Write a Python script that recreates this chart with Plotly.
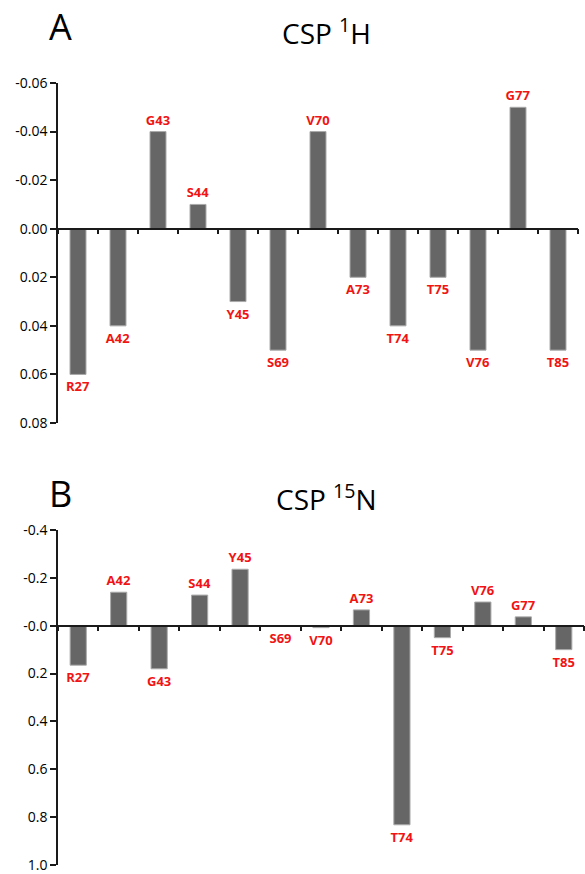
import plotly.graph_objects as go

residues = ["R27", "A42", "G43", "S44", "Y45", "S69", "V70", "A73", "T74", "T75", "V76", "G77", "T85"]
csp_1h = [0.06, 0.04, -0.04, -0.01, 0.03, 0.05, -0.04, 0.02, 0.04, 0.02, 0.05, -0.05, 0.05]
csp_15n = [0.165, -0.14, 0.18, -0.128, -0.236, 0.002, 0.008, -0.066, 0.832, 0.05, -0.099, -0.037, 0.10]

ticks_a = [-0.06, -0.04, -0.02, 0.0, 0.02, 0.04, 0.06, 0.08]
ticktext_a = ["-0.06", "-0.04", "-0.02", "0.00", "0.02", "0.04", "0.06", "0.08"]
ticks_b = [-0.4, -0.2, 0.0, 0.2, 0.4, 0.6, 0.8, 1.0]
ticktext_b = ["-0.4", "-0.2", "-0.0", "0.2", "0.4", "0.6", "0.8", "1.0"]

W, H = 585, 874
FONT = "Open Sans"
BAR = "#666666"
RED = "#f01414"
AX = "#1a1a1a"

def py(pix):
    return 1 - pix / H

range_a = [0.08, -0.06]
range_b = [1.0, -0.4]
dom_a = [py(423), py(83)]
dom_b = [py(865), py(530)]

def zero_pos(rng, dom):
    lo, hi = rng[1], rng[0]  # top value, bottom value
    frac = (0 - lo) / (hi - lo)
    return dom[1] - frac * (dom[1] - dom[0])

fig = go.Figure()
for vals, xa, ya in [(csp_1h, "x", "y"), (csp_15n, "x2", "y2")]:
    fig.add_trace(go.Bar(
        x=residues, y=vals, xaxis=xa, yaxis=ya,
        marker=dict(color=BAR, line=dict(color="#aaaaaa", width=1)),
        text=residues, textposition="outside", cliponaxis=False,
        textfont=dict(color=RED, size=13, family=FONT, weight="bold"),
        hoverinfo="skip", showlegend=False,
    ))

common_x = dict(type="category", showticklabels=False, ticks="outside", ticklen=5,
                tickwidth=1.5, tickcolor=AX, tickson="boundaries", showline=True,
                linecolor=AX, linewidth=1.5, showgrid=False, zeroline=False,
                anchor="free", automargin=False)
common_y = dict(ticks="outside", ticklen=6, tickwidth=1.5, tickcolor=AX, showline=True,
                linecolor=AX, linewidth=1.5, showgrid=False, zeroline=False,
                automargin=False, ticklabeloverflow="allow",
                tickfont=dict(size=14, color="black", family=FONT))

fig.update_layout(
    width=W, height=H, margin=dict(l=0, r=0, t=0, b=0, autoexpand=False),
    paper_bgcolor="white", plot_bgcolor="white", bargap=0.6,
    font=dict(family=FONT),
    uniformtext=dict(minsize=13, mode="show"),
    xaxis=dict(domain=[58 / W, 578 / W], position=zero_pos(range_a, dom_a), **common_x),
    yaxis=dict(domain=dom_a, range=range_a, tickvals=ticks_a, ticktext=ticktext_a,
               anchor="x", **common_y),
    xaxis2=dict(domain=[58 / W, 584 / W], position=zero_pos(range_b, dom_b), **common_x),
    yaxis2=dict(domain=dom_b, range=range_b, tickvals=ticks_b, ticktext=ticktext_b,
                anchor="x2", **common_y),
)

annots = [
    ("A", 47, 27, 36, "left"),
    ("CSP <sup>1</sup>H", 326, 31, 28, "center"),
    ("B", 47, 493, 36, "left"),
    ("CSP <sup>15</sup>N", 326, 497, 28, "center"),
]
for txt, xp, yp, sz, xa in annots:
    fig.add_annotation(text=txt, xref="paper", yref="paper", x=xp / W, y=py(yp),
                       xanchor=xa, yanchor="middle", showarrow=False,
                       font=dict(size=sz, color="black", family=FONT))

fig.write_html("out.html")
